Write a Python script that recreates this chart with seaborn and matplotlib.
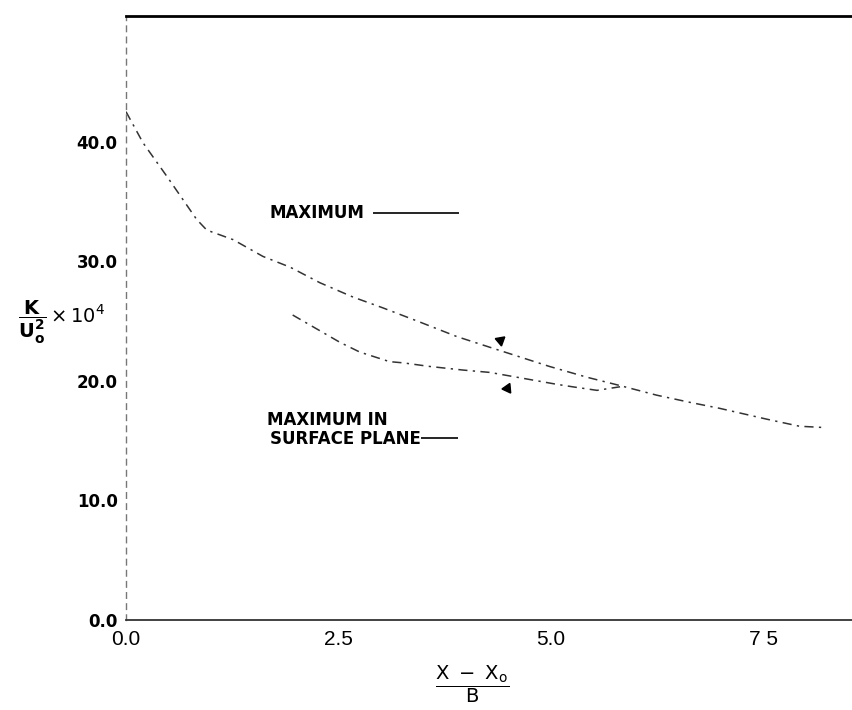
import numpy as np
import pandas as pd
import matplotlib
matplotlib.use("Agg")
import matplotlib.pyplot as plt
import seaborn as sns

# ---- data ----
max_x = [0.00, 0.20, 0.48, 0.83, 0.95, 1.26, 1.61, 1.93, 2.28, 2.67, 3.02, 3.46,
         3.89, 4.28, 4.63, 4.98, 5.42, 5.81, 6.24, 6.63, 6.98, 7.53, 7.92, 8.19]
max_y = [42.5, 39.9, 37.1, 33.5, 32.6, 31.8, 30.4, 29.5, 28.2, 27.0, 26.1, 24.9,
         23.7, 22.8, 22.0, 21.2, 20.3, 19.6, 18.8, 18.2, 17.7, 16.8, 16.2, 16.1]

surf_x = [1.96, 2.52, 2.75, 3.10, 3.26, 3.57, 3.96, 4.28, 5.07, 5.25, 5.54, 5.81]
surf_y = [25.5, 23.2, 22.4, 21.6, 21.5, 21.2, 20.9, 20.7, 19.7, 19.5, 19.2, 19.5]

arrow_x = [4.40, 4.48]
arrow_y = [23.4, 19.4]

x_ticks = [0.0, 2.5, 5.0, 7.5]
x_tick_labels = ["0.0", "2.5", "5.0", "7 5"]
y_ticks = [0.0, 10.0, 20.0, 30.0, 40.0]
y_tick_labels = ["0.0", "10.0", "20.0", "30.0", "40.0"]

df = pd.concat([
    pd.DataFrame({"x": max_x, "y": max_y, "series": "MAXIMUM"}),
    pd.DataFrame({"x": surf_x, "y": surf_y, "series": "MAXIMUM IN SURFACE PLANE"}),
])

sns.set_theme(style="white")
plt.rcParams["font.family"] = ["DejaVu Sans"]
plt.rcParams["mathtext.fontset"] = "dejavusans"
plt.rcParams["text.color"] = "black"

fig = plt.figure(figsize=(8.53, 7.10), dpi=100)
ax = fig.add_axes([126 / 853, 90 / 710, 1 - 126 / 853, 604 / 710])

ink = "#333333"
sns.lineplot(data=df, x="x", y="y", hue="series", palette=[ink, ink],
             ax=ax, legend=False, sort=False, linewidth=1.1, estimator=None)
for ln in ax.lines:
    ln.set_dashes([6, 3.5, 1.5, 3.5])

# arrowheads pointing at the curves
ax.plot(arrow_x[0], arrow_y[0], marker=(3, 0, 190), markersize=8, color="black", linestyle="none")
ax.plot(arrow_x[1], arrow_y[1], marker=(3, 0, -25), markersize=8, color="black", linestyle="none")

ax.set_xlim(0, 8.55)
ax.set_ylim(0, 50.5)

ax.set_xticks(x_ticks)
ax.set_xticklabels(x_tick_labels, fontfamily="Liberation Sans", fontsize=15)
ax.set_yticks(y_ticks)
ax.set_yticklabels(y_tick_labels, fontweight="bold", fontsize=12)
ax.tick_params(axis="x", length=0, pad=7, colors="black")
ax.tick_params(axis="y", direction="in", length=10, width=1.2, pad=6, colors="black")
ax.set_xlabel("")
ax.set_ylabel("")

ax.spines["right"].set_visible(False)
ax.spines["top"].set_linewidth(2.0)
ax.spines["top"].set_color("black")
ax.spines["bottom"].set_linewidth(1.3)
ax.spines["bottom"].set_color("#333333")
ax.spines["left"].set_linewidth(1.0)
ax.spines["left"].set_color("#777777")
ax.spines["left"].set_linestyle((0, (4, 4)))

# series labels with their line keys
ax.text(1.69, 34.0, "MAXIMUM", fontsize=12, fontweight="bold", va="center", ha="left", color="black")
ax.hlines(34.0, 2.91, 3.92, color="black", linewidth=1.2)
ax.text(1.66, 16.7, "MAXIMUM IN", fontsize=12, fontweight="bold", va="center", ha="left", color="black")
ax.text(1.69, 15.1, "SURFACE PLANE", fontsize=12, fontweight="bold", va="center", ha="left", color="black")
ax.hlines(15.2, 3.47, 3.90, color="black", linewidth=1.2)

# axis titles
fig.text(18 / 853, 1 - 322 / 710, r"$\dfrac{\mathbf{K}}{\mathbf{U_o^2}}\times 10^4$",
         fontsize=14, ha="left", va="center", color="black")
fig.text(472 / 853, 1 - 684 / 710, r"$\dfrac{\mathrm{X\ -\ X_o}}{\mathrm{B}}$",
         fontsize=14, ha="center", va="center", color="black")

fig.savefig("out.png", dpi=100)
